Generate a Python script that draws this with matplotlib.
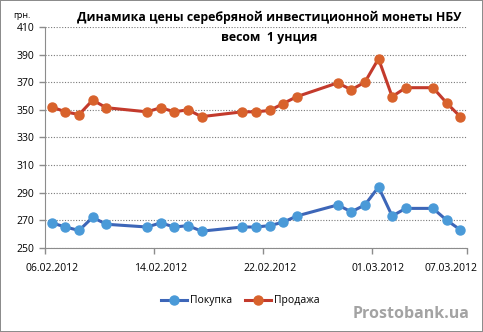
import numpy as np
import pandas as pd
import matplotlib
matplotlib.use('Agg')
import matplotlib.pyplot as plt
import matplotlib.transforms as mtransforms

plt.rcParams['font.family'] = ['Open Sans', 'DejaVu Sans']

# data
dates = ['06.02.2012', '07.02.2012', '08.02.2012', '09.02.2012', '10.02.2012',
         '13.02.2012', '14.02.2012', '15.02.2012', '16.02.2012', '17.02.2012',
         '20.02.2012', '21.02.2012', '22.02.2012', '23.02.2012', '24.02.2012',
         '27.02.2012', '28.02.2012', '29.02.2012', '01.03.2012', '02.03.2012',
         '03.03.2012', '05.03.2012', '06.03.2012', '07.03.2012']
buy = [268, 265, 262.5, 272, 267, 265, 268, 265, 266, 262,
       265, 265, 266, 268.5, 273, 281, 276, 281, 294, 273,
       278.5, 278.5, 270, 263]
sell = [352, 348.5, 346.5, 357, 351.5, 348.5, 351.5, 348.5, 350, 345,
        348.5, 348.5, 349.5, 354.5, 359.5, 369.5, 364.5, 370, 387, 359.5,
        366, 366, 355, 345]
tick_labels = ['06.02.2012', '14.02.2012', '22.02.2012', '01.03.2012', '07.03.2012']
y_ticks = [250, 270, 290, 310, 330, 350, 370, 390, 410]

d = pd.to_datetime(dates, format='%d.%m.%Y')
start = d[0]
days = np.array([(t - start).days for t in d])
x = days + 0.5
label_days = [(pd.to_datetime(s, format='%d.%m.%Y') - start).days for s in tick_labels]
x_end = days[-1] + 1
major_pos = label_days[:-1] + [x_end]
label_pos = [v + 0.5 for v in label_days]

fig = plt.figure(figsize=(4.83, 3.32), dpi=100)
fig.patch.set_edgecolor('#8c8c8c')
fig.patch.set_linewidth(1.2)
ax = fig.add_axes([45/483, 1 - 247.7/332, (467 - 45)/483, (247.7 - 27)/332])

ax.plot(x, buy, color='#3d66b8', lw=2.2, marker='o', ms=6.5,
        mfc='#4a9ad8', mec='#4a9ad8', label='Покупка', zorder=3)
ax.plot(x, sell, color='#c33a2c', lw=2.2, marker='o', ms=6.5,
        mfc='#d8622c', mec='#d8622c', label='Продажа', zorder=3)

ax.set_xlim(0, x_end)
ax.set_ylim(250, 410)
ax.set_yticks(y_ticks)
ax.set_xticks(major_pos)
ax.set_xticklabels([])
ax.set_xticks(label_pos, minor=True)
ax.set_xticklabels(tick_labels, minor=True)
ax.grid(axis='y', linestyle=(0, (1, 1.5)), color='#7a7a7a', lw=0.8)
ax.set_axisbelow(True)
for s in ['top', 'right']:
    ax.spines[s].set_visible(False)
for s in ['left', 'bottom']:
    ax.spines[s].set_color('#8c8c8c')
ax.tick_params(axis='both', labelsize=7.5, color='#8c8c8c', length=4, width=1)
ax.tick_params(axis='x', which='minor', length=0, pad=11, labelsize=7.5)

# last date label is pushed left to stay inside the chart, as in the original
last = ax.xaxis.get_minorticklabels()[-1]
last.set_transform(last.get_transform() +
                   mtransforms.ScaledTranslation(-9/100, 0, fig.dpi_scale_trans))

fig.text(22/483, 1 - 16/332, 'грн.', fontsize=6.5, ha='center', va='center')
fig.text(269/483, 1 - 17/332, 'Динамика цены серебряной инвестиционной монеты НБУ',
         fontsize=8.9, fontweight='bold', ha='center', va='center')
fig.text(269/483, 1 - 37/332, 'весом  1 унция',
         fontsize=8.9, fontweight='bold', ha='center', va='center')

fig.legend(loc='center', bbox_to_anchor=(240/483, 1 - 301/332), ncol=2,
           frameon=False, fontsize=7.5, handlelength=2.5, columnspacing=1.2,
           handletextpad=0.3)

fig.text(469/483, 1 - 314/332, 'Prostobank.ua', fontsize=11.5, fontweight='bold',
         color='#a3a3a3', ha='right', va='center')

fig.savefig('out.png', dpi=100)
